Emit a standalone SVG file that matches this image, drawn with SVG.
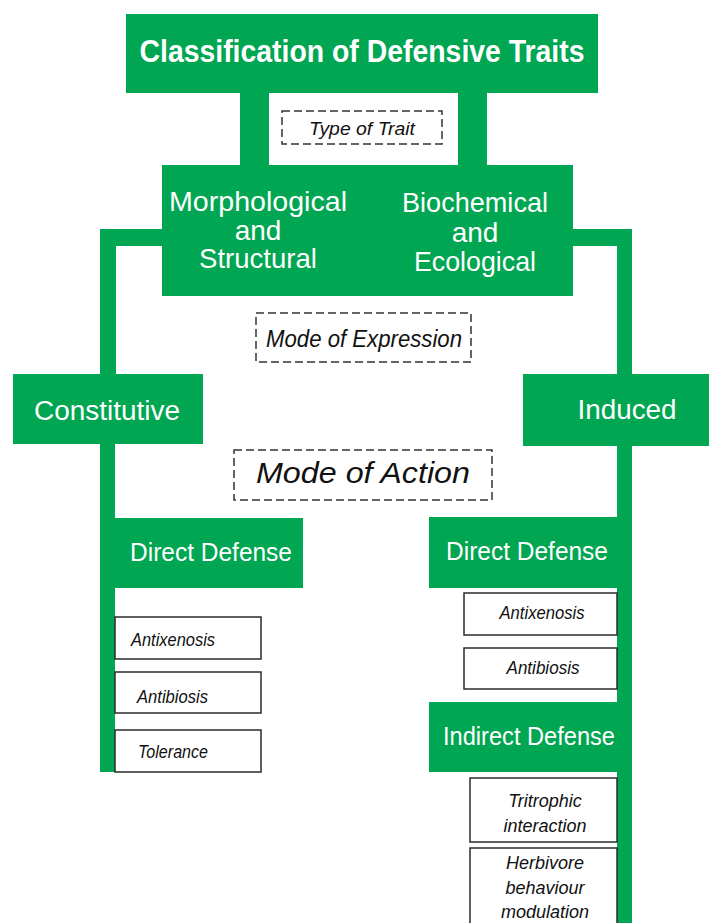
<svg xmlns="http://www.w3.org/2000/svg" width="709" height="923" viewBox="0 0 709 923">
<style>
.g{fill:#00a651}
.wt{fill:#ffffff;font-family:"Liberation Sans",Arial,sans-serif}
.dash{fill:none;stroke:#333;stroke-width:1.5;stroke-dasharray:8,4}
.box{fill:#fff;stroke:#2b2b2b;stroke-width:1.5}
.it{fill:#111;font-family:"Liberation Sans",Arial,sans-serif;font-style:italic}
</style>
<rect width="709" height="923" fill="#fff"/>
<g id="connectors">
<rect class="g" x="240" y="92" width="29" height="74"/>
<rect class="g" x="458" y="92" width="29" height="74"/>
<rect class="g" x="100" y="229" width="63" height="17"/>
<rect class="g" x="100" y="229" width="16" height="146"/>
<rect class="g" x="100" y="443" width="15" height="329"/>
<rect class="g" x="572" y="229" width="60" height="17"/>
<rect class="g" x="617" y="229" width="15" height="146"/>
<rect class="g" x="617" y="445" width="15" height="478"/>
</g>
<g id="title">
<rect class="g" x="126" y="14" width="472" height="79"/>
<text class="wt" x="362" y="62" font-size="31" font-weight="bold" text-anchor="middle" textLength="445" lengthAdjust="spacingAndGlyphs">Classification of Defensive Traits</text>
</g>
<g id="label-type">
<rect class="dash" x="282" y="111" width="160" height="33"/>
<text class="it" x="362" y="135" font-size="19" text-anchor="middle" textLength="106" lengthAdjust="spacingAndGlyphs">Type of Trait</text>
</g>
<g id="traits">
<rect class="g" x="162" y="165" width="411" height="131"/>
<text class="wt" x="258" y="211" font-size="28" text-anchor="middle" textLength="178" lengthAdjust="spacingAndGlyphs">Morphological</text>
<text class="wt" x="258" y="240" font-size="28" text-anchor="middle">and</text>
<text class="wt" x="258" y="268" font-size="28" text-anchor="middle" textLength="118" lengthAdjust="spacingAndGlyphs">Structural</text>
<text class="wt" x="475" y="212" font-size="28" text-anchor="middle" textLength="146" lengthAdjust="spacingAndGlyphs">Biochemical</text>
<text class="wt" x="475" y="242" font-size="28" text-anchor="middle">and</text>
<text class="wt" x="475" y="271" font-size="28" text-anchor="middle" textLength="122" lengthAdjust="spacingAndGlyphs">Ecological</text>
</g>
<g id="label-expression">
<rect class="dash" x="256" y="313" width="215" height="49"/>
<text class="it" x="364" y="347" font-size="24" text-anchor="middle" textLength="196" lengthAdjust="spacingAndGlyphs">Mode of Expression</text>
</g>
<g id="constitutive">
<rect class="g" x="13" y="374" width="190" height="70"/>
<text class="wt" x="107" y="420" font-size="27" text-anchor="middle" textLength="146" lengthAdjust="spacingAndGlyphs">Constitutive</text>
</g>
<g id="induced">
<rect class="g" x="523" y="374" width="186" height="72"/>
<text class="wt" x="627" y="419" font-size="27" text-anchor="middle" textLength="99" lengthAdjust="spacingAndGlyphs">Induced</text>
</g>
<g id="label-action">
<rect class="dash" x="234" y="450" width="258" height="50"/>
<text class="it" x="363" y="483" font-size="30" text-anchor="middle" textLength="214" lengthAdjust="spacingAndGlyphs">Mode of Action</text>
</g>
<g id="c-direct">
<rect class="g" x="115" y="518" width="188" height="70"/>
<text class="wt" x="211" y="561" font-size="25" text-anchor="middle" textLength="162" lengthAdjust="spacingAndGlyphs">Direct Defense</text>
</g>
<g id="c-antixenosis">
<rect class="box" x="115" y="617" width="146" height="42"/>
<text class="it" x="131" y="646" font-size="18" textLength="84" lengthAdjust="spacingAndGlyphs">Antixenosis</text>
</g>
<g id="c-antibiosis">
<rect class="box" x="115" y="672" width="146" height="41"/>
<text class="it" x="137" y="703" font-size="18" textLength="71" lengthAdjust="spacingAndGlyphs">Antibiosis</text>
</g>
<g id="c-tolerance">
<rect class="box" x="115" y="730" width="146" height="42"/>
<text class="it" x="138" y="758" font-size="18" textLength="70" lengthAdjust="spacingAndGlyphs">Tolerance</text>
</g>
<g id="i-direct">
<rect class="g" x="429" y="517" width="188" height="71"/>
<text class="wt" x="527" y="560" font-size="25" text-anchor="middle" textLength="162" lengthAdjust="spacingAndGlyphs">Direct Defense</text>
</g>
<g id="i-antixenosis">
<rect class="box" x="464" y="593" width="153" height="42"/>
<text class="it" x="542" y="619" font-size="18" text-anchor="middle" textLength="85" lengthAdjust="spacingAndGlyphs">Antixenosis</text>
</g>
<g id="i-antibiosis">
<rect class="box" x="464" y="648" width="153" height="41"/>
<text class="it" x="543" y="674" font-size="18" text-anchor="middle" textLength="73" lengthAdjust="spacingAndGlyphs">Antibiosis</text>
</g>
<g id="i-indirect">
<rect class="g" x="429" y="702" width="188" height="70"/>
<text class="wt" x="529" y="745" font-size="25" text-anchor="middle" textLength="172" lengthAdjust="spacingAndGlyphs">Indirect Defense</text>
</g>
<g id="i-tritrophic">
<rect class="box" x="470" y="778" width="147" height="64"/>
<text class="it" x="545" y="807" font-size="18" text-anchor="middle">Tritrophic</text>
<text class="it" x="545" y="832" font-size="18" text-anchor="middle">interaction</text>
</g>
<g id="i-herbivore">
<rect class="box" x="470" y="848" width="147" height="90"/>
<text class="it" x="545" y="869" font-size="18" text-anchor="middle">Herbivore</text>
<text class="it" x="545" y="894" font-size="18" text-anchor="middle">behaviour</text>
<text class="it" x="545" y="918" font-size="18" text-anchor="middle">modulation</text>
</g>
</svg>
